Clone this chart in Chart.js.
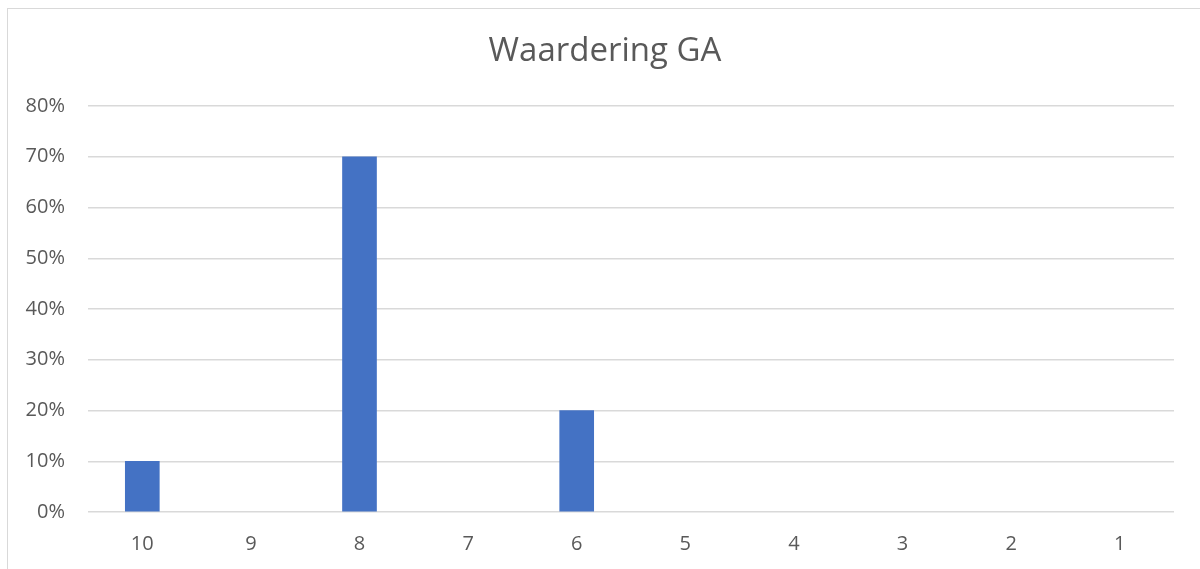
<!DOCTYPE html>
<html>
<head>
<meta charset="utf-8">
<script src="https://cdn.jsdelivr.net/npm/chart.js@4.4.0/dist/chart.umd.min.js"></script>
<style>
  html, body { margin: 0; padding: 0; background: #fff; }
  #wrap { position: relative; width: 1200px; height: 569px; overflow: hidden; }
  #frame { position: absolute; left: 7px; top: 8px; width: 1300px; height: 700px; border: 1px solid #d9d9d9; box-sizing: border-box; }
  canvas { position: absolute; left: 0; top: 0; }
</style>
</head>
<body>
<div id="wrap">
  <div id="frame"></div>
  <canvas id="chart" width="1200" height="569"></canvas>
</div>
<script>
const titleText = 'Waardering GA';
const categories = ['10', '9', '8', '7', '6', '5', '4', '3', '2', '1'];
const shares = [10, 0, 70, 0, 20, 0, 0, 0, 0, 0];
const yMax = 80;
const yStep = 10;

const textColor = '#595959';
const gridColor = '#d9d9d9';
const fontFamily = '"Open Sans", "Liberation Sans", sans-serif';

// title is centred on the whole frame, not on the plot area
const shiftTitle = {
    id: 'shiftTitle',
    afterLayout(chart) {
        if (chart.titleBlock) chart.titleBlock.left += 36;
    }
};

new Chart(document.getElementById('chart'), {
    type: 'bar',
    data: {
        labels: categories,
        // empty categories drawn as nothing, not a zero-height sliver
        datasets: [{ label: titleText, data: shares.map((v) => v || null), backgroundColor: '#4472c4', barThickness: 34 }]
    },
    plugins: [shiftTitle],
    options: {
        responsive: false,
        animation: false,
        layout: { padding: { left: 0, right: 26, top: 0, bottom: 0 } },
        plugins: {
            legend: { display: false },
            tooltip: { enabled: false },
            title: {
                display: true,
                text: titleText,
                color: textColor,
                font: { family: fontFamily, size: 33, weight: 'normal', lineHeight: 1.2 },
                padding: { top: 32, bottom: 34.4 }
            }
        },
        scales: {
            x: {
                grid: { display: false, drawTicks: false },
                border: { display: false },
                ticks: { color: textColor, font: { family: fontFamily, size: 20 }, padding: 20 },
                afterFit: (scale) => { scale.height = 57; }
            },
            y: {
                min: 0,
                max: yMax,
                grid: { color: gridColor, lineWidth: 1.5, drawTicks: false },
                border: { display: false },
                ticks: {
                    stepSize: yStep,
                    color: textColor,
                    font: { family: fontFamily, size: 20 },
                    padding: 23,
                    callback: (v) => v + '%'
                },
                afterFit: (scale) => { scale.width = 88; }
            }
        }
    }
});
</script>
</body>
</html>
